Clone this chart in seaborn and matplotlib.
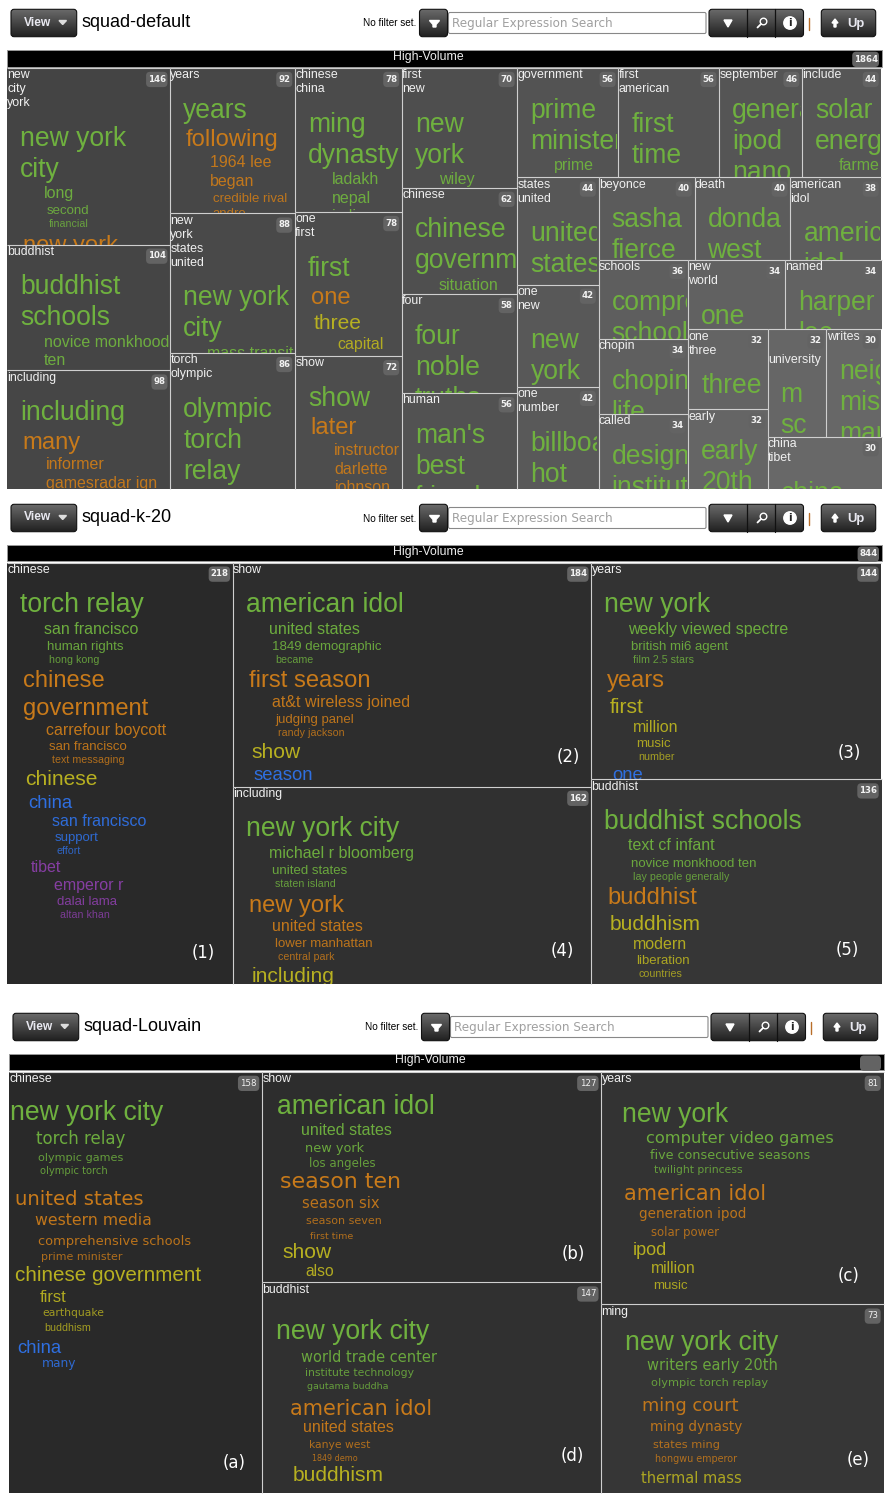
"""
Three topic treemap screens: squad-default, squad-k-20, squad-Louvain
"""

import numpy as np
import matplotlib
matplotlib.use("Agg")
import matplotlib.pyplot as plt
from matplotlib.patches import Rectangle, FancyBboxPatch, Polygon, Circle
import seaborn as sns

# ── Data: squad-default ───────────────────────
DEFAULT_COUNTS = [146, 104, 98, 92, 88, 86, 78, 78, 72, 70, 62, 58, 56, 56, 56, 46, 44,
                  44, 42, 42, 40, 40, 38, 36, 34, 34, 34, 34, 32, 32, 32, 30, 30]
DEFAULT_TITLES = [
    ["new", "city", "york"], ["buddhist"], ["including"], ["years"],
    ["new", "york", "states", "united"], ["torch", "olympic"], ["chinese", "china"], ["one", "first"],
    ["show"], ["first", "new"], ["chinese"], ["four"], ["human"],
    ["government"], ["first", "american"], ["september"], ["include"],
    ["states", "united"], ["one", "new"], ["one", "number"],
    ["beyonce"], ["death"], ["american", "idol"],
    ["schools"], ["chopin"], ["called"], ["new", "world"], ["named"],
    ["one", "three"], ["early"], ["university"], ["writes"], ["china", "tibet"],
]
DEFAULT_WORDS = [
    ["new york", "city", "long", "second", "financial", "new york"],
    ["buddhist", "schools", "novice monkhood", "ten"],
    ["including", "many", "informer", "gamesradar ign"],
    ["years", "following", "1964 lee", "began", "credible rival", "andre"],
    ["new york", "city", "mass transit"],
    ["olympic", "torch", "relay"],
    ["ming", "dynasty", "ladakh", "nepal", "india"],
    ["first", "one", "three", "capital"],
    ["show", "later", "instructor", "darlette", "johnson"],
    ["new", "york", "wiley"],
    ["chinese", "government", "situation"],
    ["four", "noble", "truths"],
    ["man's", "best", "friend"],
    ["prime", "minister", "prime", "minister"],
    ["first", "time"],
    ["generation", "ipod", "nano"],
    ["solar", "energy", "farmers", "water"],
    ["united", "states"],
    ["new", "york"],
    ["billboard", "hot"],
    ["sasha", "fierce"],
    ["donda", "west"],
    ["american", "idol"],
    ["comprehensive", "schools"],
    ["chopin", "life"],
    ["design", "institute"],
    ["one"],
    ["harper", "lee"],
    ["three"],
    ["early", "20th"],
    ["m", "sc"],
    ["neighbors", "missing", "married"],
    ["china"],
]
DEFAULT_TIERS = [
    [0, 0, 1, 2, 3, 0], [0, 0, 1, 1], [0, 0, 1, 1], [0, 0, 1, 1, 2, 2], [0, 0, 1], [0, 0, 0],
    [0, 0, 1, 1, 1], [0, 0, 0, 1], [0, 0, 1, 1, 1], [0, 0, 1], [0, 0, 1], [0, 0, 0], [0, 0, 0],
    [0, 0, 1, 1], [0, 0], [0, 0, 0], [0, 0, 1, 1], [0, 0], [0, 0], [0, 0], [0, 0], [0, 0], [0, 0],
    [0, 0], [0, 0], [0, 0], [0], [0, 0], [0], [0, 0], [0, 0], [0, 0, 0], [0],
]
DEFAULT_GROUPS = [
    [0, 0, 0, 0, 0, 1], [0, 0, 0, 0], [0, 1, 1, 1], [0, 1, 1, 1, 1, 1], [0, 0, 0], [0, 0, 0],
    [0, 0, 0, 0, 0], [0, 1, 2, 2], [0, 1, 1, 1, 1], [0, 0, 0], [0, 0, 0], [0, 0, 0], [0, 0, 0],
    [0, 0, 0, 0], [0, 0], [0, 0, 0], [0, 0, 0, 0], [0, 0], [0, 0], [0, 0], [0, 0], [0, 0], [0, 0],
    [0, 0], [0, 0], [0, 0], [0], [0, 0], [0], [0, 0], [0, 0], [0, 0, 0], [0],
]

# ── Data: squad-k-20 ──────────────────────────
K20_COUNTS = [218, 184, 162, 144, 136]
K20_TITLES = [["chinese"], ["show"], ["including"], ["years"], ["buddhist"]]
K20_WORDS = [
    ["torch relay", "san francisco", "human rights", "hong kong", "chinese", "government",
     "carrefour boycott", "san francisco", "text messaging", "chinese", "china", "san francisco",
     "support", "effort", "tibet", "emperor r", "dalai lama", "altan khan"],
    ["american idol", "united states", "1849 demographic", "became", "first season",
     "at&t wireless joined", "judging panel", "randy jackson", "show", "season"],
    ["new york city", "michael r bloomberg", "united states", "staten island", "new york",
     "united states", "lower manhattan", "central park", "including"],
    ["new york", "weekly viewed spectre", "british mi6 agent", "film 2.5 stars", "years", "first",
     "million", "music", "number", "one"],
    ["buddhist schools", "text cf infant", "novice monkhood ten", "lay people generally", "buddhist",
     "buddhism", "modern", "liberation", "countries", "buddhism"],
]
K20_TIERS = [
    [0, 1, 2, 3, 0, 0, 1, 2, 3, 0, 0, 1, 2, 3, 0, 1, 2, 3],
    [0, 1, 2, 3, 0, 1, 2, 3, 0, 0],
    [0, 1, 2, 3, 0, 1, 2, 3, 0],
    [0, 1, 2, 3, 0, 0, 1, 2, 3, 0],
    [0, 1, 2, 3, 0, 0, 1, 2, 3, 0],
]
K20_GROUPS = [
    [0, 0, 0, 0, 1, 1, 1, 1, 1, 2, 3, 3, 3, 3, 4, 4, 4, 4],
    [0, 0, 0, 0, 1, 1, 1, 1, 2, 3],
    [0, 0, 0, 0, 1, 1, 1, 1, 2],
    [0, 0, 0, 0, 1, 2, 2, 2, 2, 3],
    [0, 0, 0, 0, 1, 2, 2, 2, 2, 3],
]
K20_MARKS = ["(1)", "(2)", "(4)", "(3)", "(5)"]

# ── Data: squad-Louvain ───────────────────────
# drawn cell sizes do not follow the printed counts, so read them off on their own
LOUVAIN_COUNTS = [158, 127, 147, 81, 73]
LOUVAIN_SIZES = [253, 169.5, 169.5, 155.8, 126.2]
LOUVAIN_TITLES = [["chinese"], ["show"], ["buddhist"], ["years"], ["ming"]]
LOUVAIN_WORDS = [
    ["new york city", "torch relay", "olympic games", "olympic torch", "united states", "western media",
     "comprehensive schools", "prime minister", "chinese government", "first", "earthquake", "buddhism",
     "china", "many"],
    ["american idol", "united states", "new york", "los angeles", "season ten", "season six",
     "season seven", "first time", "show", "also"],
    ["new york city", "world trade center", "institute technology", "gautama buddha", "american idol",
     "united states", "kanye west", "1849 demo", "buddhism"],
    ["new york", "computer video games", "five consecutive seasons", "twilight princess", "american idol",
     "generation ipod", "solar power", "ipod", "million", "music"],
    ["new york city", "writers early 20th", "olympic torch replay", "ming court", "ming dynasty",
     "states ming", "hongwu emperor", "thermal mass"],
]
LOUVAIN_GROUPS = [
    [0, 0, 0, 0, 1, 1, 1, 1, 2, 2, 2, 2, 3, 3],
    [0, 0, 0, 0, 1, 1, 1, 1, 2, 2],
    [0, 0, 0, 0, 1, 1, 1, 1, 2],
    [0, 0, 0, 0, 1, 1, 1, 2, 2, 2],
    [0, 0, 0, 1, 1, 1, 1, 2],
]
LOUVAIN_MARKS = ["(a)", "(b)", "(d)", "(c)", "(e)"]

# ── Word layout for Louvain (offsets from cell corner, px) ──
LV_DX = [
    [1.7, 28, 29.3, 31.3, 7, 26.7, 29.3, 32.3, 7, 31.7, 34.3, 36, 9.3, 33.3],
    [15.7, 39.3, 43.3, 47.3, 18.7, 40.3, 45, 48.3, 21, 44.3],
    [15, 39.3, 43.3, 46, 29, 41.3, 47.3, 50.3, 31.3],
    [21, 45.3, 49.3, 53, 23, 38.3, 50.3, 31.7, 50.3, 52.7],
    [24, 46.7, 50.3, 41.7, 49.7, 52.3, 54.3, 40.3],
]
LV_DY = [
    [39.5, 66.5, 85.5, 99, 126.5, 148, 169, 185, 203, 225, 241, 255.5, 275, 291],
    [33.5, 58, 76, 91.5, 109, 131, 148.5, 164, 179, 199],
    [48, 75, 90.3, 104, 125.3, 144.6, 162.3, 176, 192],
    [41.8, 65.5, 82.8, 97.5, 121.5, 141.5, 160, 177, 196, 213],
    [36.4, 60.4, 77.4, 101, 121.7, 139.4, 154, 173.4],
]
LV_PX = [
    [26.5, 16.6, 11.2, 10, 19.7, 15.8, 13, 11, 20.6, 16.5, 10.8, 10.6, 18.5, 12.3],
    [26.5, 16, 12.9, 11.8, 22.2, 14.7, 11.1, 9.5, 21, 15.6],
    [26.5, 14.6, 10.85, 9.5, 20.9, 16, 10.8, 8, 21],
    [26.5, 16.2, 12.8, 10.8, 20.9, 13.5, 11.6, 18, 15.7, 13.3],
    [26.5, 14.6, 11.4, 17.7, 13.5, 11.4, 9.7, 14.6],
]
# 1 = wide face
LV_WIDE = [
    [0, 1, 1, 1, 1, 1, 1, 1, 0, 0, 1, 0, 0, 1],
    [0, 0, 1, 1, 1, 1, 1, 1, 0, 0],
    [0, 1, 1, 1, 1, 0, 1, 1, 0],
    [0, 1, 1, 1, 1, 1, 1, 0, 0, 0],
    [0, 1, 1, 1, 1, 1, 1, 1],
]

GROUP_HEX = ["#6fb13f", "#c87a1a", "#b7b021", "#2f6fe0", "#8a3fa8"]
TOP_PX = [26.5, 23.8, 21, 18.5, 16]
TIER_PX = [None, 16, 13.3, 10.6]
TIER_DX = [0, 23.6, 26.6, 29]
BADGE_BG = "#636363"
LINE = "#cfcfcf"
NARROW = "Liberation Sans"
WIDE = "DejaVu Sans"

sns.set_theme(style="white", font=NARROW)
palette = sns.color_palette(GROUP_HEX)

fig = plt.figure(figsize=(8.9, 15), dpi=100, facecolor="white")
ax = fig.add_axes([0, 0, 1, 1])
ax.set_facecolor("white")


def pt(px):
    return px * 0.72


def worst(row, side):
    s = sum(row)
    return max(side * side * max(row) / (s * s), s * s / (side * side * min(row)))


def squarify(sizes, x, y, w, h):
    scale = w * h / sum(sizes)
    areas = [s * scale for s in sizes]
    rects = []
    i = 0
    while i < len(areas):
        side = min(w, h)
        row = [areas[i]]
        i += 1
        while i < len(areas) and worst(row + [areas[i]], side) <= worst(row, side):
            row.append(areas[i])
            i += 1
        thick = sum(row) / side
        pos = y if w >= h else x
        for a in row:
            if w >= h:
                rects.append((x, pos, thick, a / thick))
            else:
                rects.append((pos, y, a / thick, thick))
            pos += a / thick
        if w >= h:
            x += thick
            w -= thick
        else:
            y += thick
            h -= thick
    return rects


def button(x0, y0, x1, y1):
    box = FancyBboxPatch((x0, y0), x1 - x0, y1 - y0, boxstyle="round,pad=0,rounding_size=3",
                         facecolor="none", edgecolor="#111111", linewidth=0.8, zorder=3)
    ax.add_patch(box)
    im = ax.imshow(np.linspace(0, 1, 32).reshape(-1, 1), extent=(x0, x1, y1, y0), aspect="auto",
                   cmap=matplotlib.colors.LinearSegmentedColormap.from_list("b", ["#6a6a6a", "#202020"]),
                   zorder=2)
    im.set_clip_path(box)


def toolbar(dx, dy, name):
    button(11 + dx, 9.3 + dy, 76.7 + dx, 36.7 + dy)
    ax.text(37.5 + dx, 22.5 + dy, "View", color="#e8e8f0", fontsize=pt(12), fontweight="bold",
            ha="center", va="center", zorder=4)
    ax.add_patch(Polygon([(59 + dx, 20.5 + dy), (66.5 + dx, 20.5 + dy), (62.7 + dx, 24.5 + dy)],
                         color="#dddddd", zorder=4))
    ax.text(81.7 + dx, 26.8 + dy, name, color="black", fontsize=pt(18), va="baseline")
    ax.text(362.7 + dx, 26.5 + dy, "No filter set.", color="black", fontsize=pt(10), va="baseline")
    button(419.5 + dx, 9.3 + dy, 447.5 + dx, 36.7 + dy)
    ax.add_patch(Polygon([(429.5 + dx, 20.5 + dy), (439.5 + dx, 20.5 + dy), (436 + dx, 24.5 + dy),
                          (436 + dx, 27 + dy), (433 + dx, 27 + dy), (433 + dx, 24.5 + dy)],
                         color="white", zorder=4))
    ax.add_patch(FancyBboxPatch((448.5 + dx, 12.5 + dy), 257 + 0.5, 21, boxstyle="round,pad=0,rounding_size=1.5",
                                facecolor="white", edgecolor="#888888", linewidth=0.8, zorder=2))
    ax.text(452 + dx, 27 + dy, "Regular Expression Search", color="#a0a0a0", family=WIDE,
            fontsize=pt(12), va="baseline", zorder=3)
    button(709 + dx, 9.3 + dy, 803.5 + dx, 36.7 + dy)
    for xd in (746.7, 775):
        ax.plot([xd + dx, xd + dx], [9.3 + dy, 36.7 + dy], color="#111111", lw=0.9, zorder=4)
    ax.add_patch(Polygon([(724 + dx, 20 + dy), (732 + dx, 20 + dy), (728 + dx, 27 + dy)],
                         color="white", zorder=4))
    ax.add_patch(Circle((763.5 + dx, 21.5 + dy), 3.3, fill=False, edgecolor="white", lw=1, zorder=4))
    ax.plot([761 + dx, 757.5 + dx], [24 + dy, 27.5 + dy], color="white", lw=1.3, zorder=4)
    ax.add_patch(Circle((790 + dx, 23 + dy), 6.2, color="white", zorder=4))
    ax.text(790 + dx, 23 + dy, "i", color="#222222", fontsize=pt(11), fontweight="bold", family=WIDE,
            ha="center", va="center", zorder=5)
    ax.plot([808.8 + dx, 808.8 + dx], [18 + dy, 29.5 + dy], color="#b96f2a", lw=1, zorder=2)
    button(821.3 + dx, 9.3 + dy, 875.7 + dx, 36.7 + dy)
    ax.add_patch(Polygon([(835 + dx, 19 + dy), (838 + dx, 23 + dy), (836 + dx, 23 + dy), (836 + dx, 27 + dy),
                          (834 + dx, 27 + dy), (834 + dx, 23 + dy), (832 + dx, 23 + dy)],
                         color="white", zorder=4))
    ax.text(847 + dx, 27 + dy, "Up", color="#e8e8f0", fontsize=pt(13), fontweight="bold", va="baseline", zorder=4)


def badge(x1, y0, label, bold=True, width=None):
    n = len(label)
    w = width if width else 5.4 * n + 5.2
    ax.add_patch(FancyBboxPatch((x1 - w, y0), w, 15.3, boxstyle="round,pad=0,rounding_size=4",
                                facecolor=BADGE_BG, edgecolor="none", zorder=6))
    if label:
        ax.text(x1 - w / 2, y0 + 7.4, label, color="#f2f2f2", family=WIDE, fontsize=pt(8.6),
                fontweight="bold" if bold else "normal", ha="center", va="center", zorder=7)


def root_bar(x0, y0, label, bold=True, width=None):
    ax.add_patch(Rectangle((x0, y0), 874.5, 16.8, facecolor="black", edgecolor="#999999", linewidth=0.7, zorder=1))
    ax.text(x0 + 421.5, y0 + 7, "High-Volume", color="#eeeeee", fontsize=pt(12.3), ha="center", va="center", zorder=4)
    badge(x0 + 872, y0 + 2, label, bold, width)


def draw_cell(rect, shade, title, count, x_start, bold=True, drop=0):
    x, y, w, h = rect
    ax.add_patch(Rectangle((x, y), w, h, facecolor=shade, edgecolor="none", zorder=1))
    ax.plot([x, x + w], [y, y], color=LINE, lw=0.8, zorder=2, solid_capstyle="butt")
    if x > x_start + 1:
        ax.plot([x, x], [y, y + h], color=LINE, lw=0.8, zorder=2, solid_capstyle="butt")
    for k, line in enumerate(title):
        ax.text(x + 0.2, y + 7.3 + 14 * k + drop, line, color="#f0f0f0", fontsize=pt(12.4),
                va="center", zorder=5)
    badge(x + w - 2.8, y + 4, str(count), bold)


def put_word(rect, word, dx, cy, px, group, face=NARROW):
    x, y, w, h = rect
    alpha = 1.0 if px >= 18 else 0.96 if px >= 15 else 0.92 if px >= 12 else 0.85
    t = ax.text(x + dx - 0.7, y + cy + 0.33 * px, word, color=palette[group], alpha=alpha, family=face,
                fontsize=pt(px), va="baseline", zorder=3, clip_on=True)
    clip = Rectangle((x, y + 0.5), w - 1.2, h - 0.5, transform=ax.transData)
    t.set_clip_path(clip)


def flow_words(rect, words, tiers, groups, n_title, drop=0, tight=False):
    box_top = 11.5 + 14 * n_title + drop
    for word, tier, group in zip(words, tiers, groups):
        px = TOP_PX[group] if tier == 0 else TIER_PX[tier]
        hgt = 1.05 * px if (tight and tier == 1 and group > 0) else 1.17 * px
        put_word(rect, word, 13.7 + 2.65 * group + TIER_DX[tier], box_top + hgt / 2, px, group)
        box_top += hgt


# ── 1. squad-default ──────────────────────────
toolbar(0, 0, "squad-default")
root_bar(7, 49.7, "1864")
shades = np.linspace(0x44, 0x68, len(DEFAULT_COUNTS)) / 255
rects = squarify(DEFAULT_COUNTS, 7, 67.8, 874.5, 421.2)
for i, rect in enumerate(rects):
    drop = 23 if DEFAULT_TITLES[i] == ["university"] else 0
    draw_cell(rect, (shades[i],) * 3, DEFAULT_TITLES[i], DEFAULT_COUNTS[i], 7, drop=drop)
    flow_words(rect, DEFAULT_WORDS[i], DEFAULT_TIERS[i], DEFAULT_GROUPS[i], len(DEFAULT_TITLES[i]), drop)

# ── 2. squad-k-20 ─────────────────────────────
toolbar(0, 495, "squad-k-20")
root_bar(7, 544.5, "844")
shades = np.array([0x29, 0x2d, 0x30, 0x33, 0x36]) / 255
rects = squarify(K20_COUNTS, 7, 562.5, 874.5, 421.5)
k20_mark_dx = [196.5, 335.8, 329.7, 258, 256]
k20_mark_dy = [390.5, 194.5, 164, 190.5, 171]
for i, rect in enumerate(rects):
    draw_cell(rect, (shades[i],) * 3, K20_TITLES[i], K20_COUNTS[i], 7)
    flow_words(rect, K20_WORDS[i], K20_TIERS[i], K20_GROUPS[i], 1, tight=True)
    ax.text(rect[0] + k20_mark_dx[i], rect[1] + k20_mark_dy[i], K20_MARKS[i], color="white", family=WIDE,
            fontsize=pt(16.5), ha="center", va="center", zorder=5)

# ── 3. squad-Louvain ──────────────────────────
toolbar(2, 1004, "squad-Louvain")
root_bar(9, 1053.5, "", width=21)
rects = squarify(LOUVAIN_SIZES, 9, 1071.7, 874.5, 421.3)
lv_mark_dx = [225.3, 311.3, 310.3, 247, 256.3]
lv_mark_dy = [391, 182, 174, 204.5, 155.7]
for i, rect in enumerate(rects):
    draw_cell(rect, (shades[i],) * 3, LOUVAIN_TITLES[i], LOUVAIN_COUNTS[i], 9, bold=False)
    for j, word in enumerate(LOUVAIN_WORDS[i]):
        put_word(rect, word, LV_DX[i][j], LV_DY[i][j], LV_PX[i][j], LOUVAIN_GROUPS[i][j],
                 WIDE if LV_WIDE[i][j] else NARROW)
    ax.text(rect[0] + lv_mark_dx[i], rect[1] + lv_mark_dy[i], LOUVAIN_MARKS[i], color="white", family=WIDE,
            fontsize=pt(16.5), ha="center", va="center", zorder=5)

ax.set_xlim(0, 890)
ax.set_ylim(1500, 0)
ax.set_xticks([])
ax.set_yticks([])
sns.despine(ax=ax, left=True, bottom=True)

fig.savefig("out.png", dpi=100, facecolor="white")
